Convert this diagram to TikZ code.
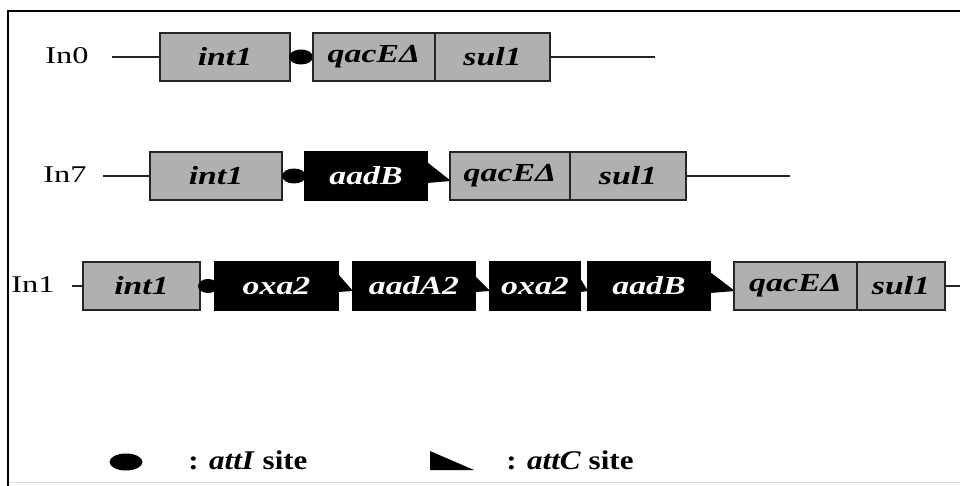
\documentclass[tikz,border=0pt]{standalone}
\usepackage{graphicx}
\usepackage{fontspec}
\setmainfont{Liberation Serif}
\definecolor{boxgray}{RGB}{176,176,176}
\newcommand{\genelab}[1]{\scalebox{1.3}[1]{\fontsize{26}{26}\selectfont\bfseries\itshape #1}}
\newcommand{\rowlab}[1]{\scalebox{1.35}[1]{\fontsize{24}{24}\selectfont #1}}
\newcommand{\leglab}[1]{\scalebox{1.15}[1]{\fontsize{27}{27}\selectfont\bfseries #1}}
\usetikzlibrary{shapes.geometric}
\tikzset{
  gbox/.style={draw=black!85, line width=1.3pt, fill=boxgray, minimum height=48pt, inner sep=0pt},
  bbox/.style={draw=black, line width=1.3pt, fill=black, text=white, minimum height=48pt, inner sep=0pt},
  wire/.style={line width=1.4pt, black!85},
  atti/.style={ellipse, fill=black, draw=none, inner sep=0pt},
  attc/.style={fill=black, draw=none},
  lbl/.style={inner sep=0pt, anchor=center}
}
\begin{document}
\begin{tikzpicture}[x=1pt,y=-1pt]
\useasboundingbox (0,0) rectangle (960,486);
\fill[white] (0,0) rectangle (960,486);
% frame
\coordinate (fl) at (8,486);
\coordinate (ftl) at (8,11);
\coordinate (ftr) at (960,11);
\draw[line width=2pt] (fl) -- (ftl) -- (ftr);
\draw[black!15, line width=1pt] (9,482) -- (960,482);

% ---------- In0 ----------
\node[lbl] (n0) at (67,56) {\rowlab{In0}};
\coordinate (a0) at (112,57);
\node[gbox, minimum width=130pt] (i0) at (225,57) {\genelab{int1}};
\node[atti, minimum width=24pt, minimum height=15pt] (e0) at (301,57) {};
\node[gbox, minimum width=122pt] (q0) at (374,57) {\genelab{qacEΔ}};
\node[gbox, minimum width=115pt] (s0) at (492.5,57) {\genelab{sul1}};
\coordinate (b0) at (655,57);
\draw[wire] (a0) -- (i0.west);
\draw[wire] (s0.east) -- (b0);

% ---------- In7 ----------
\node[lbl] (n7) at (65,175) {\rowlab{In7}};
\coordinate (a7) at (103,176);
\node[gbox, minimum width=132pt] (i7) at (216,176) {\genelab{int1}};
\node[atti, minimum width=24pt, minimum height=15pt] (e7) at (294,176) {};
\node[bbox, minimum width=122pt] (d7) at (366,176) {\genelab{aadB}};
\fill[attc] (427,162) -- (427,183) -- (451,181) -- cycle;
\node[gbox, minimum width=120pt] (q7) at (510,176) {\genelab{qacEΔ}};
\node[gbox, minimum width=116pt] (s7) at (628,176) {\genelab{sul1}};
\coordinate (b7) at (790,176);
\draw[wire] (a7) -- (i7.west);
\draw[wire] (s7.east) -- (b7);

% ---------- In1 ----------
\node[lbl] (n1) at (33,285) {\rowlab{In1}};
\coordinate (a1) at (72,286);
\node[gbox, minimum width=117pt] (i1) at (141.5,286) {\genelab{int1}};
\node[atti, minimum width=20pt, minimum height=14pt] (e1) at (208,286) {};
\node[bbox, minimum width=123pt] (x1) at (276.5,286) {\genelab{oxa2}};
\fill[attc] (338,274) -- (338,292) -- (353,291) -- cycle;
\node[bbox, minimum width=122pt] (m1) at (414,286) {\genelab{aadA2}};
\fill[attc] (475,276) -- (475,292) -- (490,291) -- cycle;
\node[bbox, minimum width=90pt] (y1) at (535,286) {\genelab{oxa2}};
\fill[attc] (580,278) -- (580,292) -- (588,291) -- cycle;
\node[bbox, minimum width=122pt] (d1) at (649,286) {\genelab{aadB}};
\fill[attc] (710,272) -- (710,293) -- (735,291) -- cycle;
\node[gbox, minimum width=123pt] (q1) at (795.5,286) {\genelab{qacEΔ}};
\node[gbox, minimum width=88pt] (s1) at (901,286) {\genelab{sul1}};
\coordinate (b1) at (960,286);
\draw[wire] (a1) -- (i1.west);
\draw[wire] (s1.east) -- (b1);

% ---------- legend ----------
\node[atti, minimum width=33pt, minimum height=17pt] (le) at (126,462) {};
\node[lbl] (lt1) at (248,460) {\leglab{: \textit{attI} site}};
\fill[attc] (430,451) -- (430,470) -- (474,470) -- cycle;
\node[lbl] (lt2) at (570,460) {\leglab{: \textit{attC} site}};
\end{tikzpicture}
\end{document}
